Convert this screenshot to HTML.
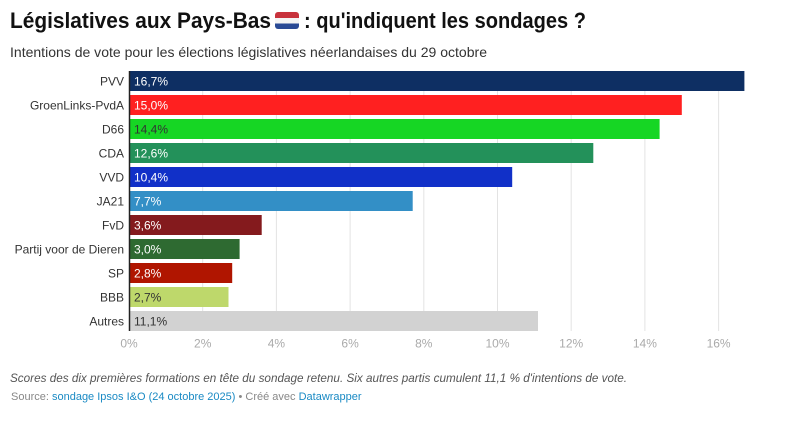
<!DOCTYPE html>
<html><head><meta charset="utf-8"><style>
html,body{margin:0;padding:0;background:#fff;}
body{width:804px;height:421px;overflow:hidden;font-family:"Liberation Sans",sans-serif;}
svg text{font-family:"Liberation Sans",sans-serif;}
</style></head><body>
<svg width="804" height="421" viewBox="0 0 804 421" xmlns="http://www.w3.org/2000/svg">
<text x="10" y="28" font-size="22" font-weight="bold" fill="#111" textLength="261" lengthAdjust="spacingAndGlyphs">Législatives aux Pays-Bas</text>
<g>
<clipPath id="fc"><rect x="275" y="12" width="24" height="17" rx="3"/></clipPath>
<g clip-path="url(#fc)">
<rect x="275" y="12" width="24" height="6" fill="#c8323c"/>
<rect x="275" y="18" width="24" height="5.5" fill="#f4f4f4"/>
<rect x="275" y="23.5" width="24" height="6" fill="#2a4a95"/>
</g></g>
<text x="304" y="28" font-size="22" font-weight="bold" fill="#111" textLength="282" lengthAdjust="spacingAndGlyphs">: qu'indiquent les sondages ?</text>
<text x="10" y="57" font-size="14" fill="#333" textLength="477" lengthAdjust="spacingAndGlyphs">Intentions de vote pour les élections législatives néerlandaises du 29 octobre</text>

<g stroke="#e3e3e3" stroke-width="1">
<line x1="202.7" y1="71" x2="202.7" y2="331"/>
<line x1="276.4" y1="71" x2="276.4" y2="331"/>
<line x1="350.1" y1="71" x2="350.1" y2="331"/>
<line x1="423.8" y1="71" x2="423.8" y2="331"/>
<line x1="497.5" y1="71" x2="497.5" y2="331"/>
<line x1="571.2" y1="71" x2="571.2" y2="331"/>
<line x1="644.9" y1="71" x2="644.9" y2="331"/>
<line x1="718.6" y1="71" x2="718.6" y2="331"/>
</g>

<g>
<rect x="129" y="71" width="615.4" height="20" fill="#0e2f63"/>
<rect x="129" y="95" width="552.8" height="20" fill="#ff2020"/>
<rect x="129" y="119" width="530.6" height="20" fill="#16d624"/>
<rect x="129" y="143" width="464.3" height="20" fill="#23915a"/>
<rect x="129" y="167" width="383.2" height="20" fill="#1130c8"/>
<rect x="129" y="191" width="283.7" height="20" fill="#338fc6"/>
<rect x="129" y="215" width="132.7" height="20" fill="#841a1d"/>
<rect x="129" y="239" width="110.6" height="20" fill="#2e6a31"/>
<rect x="129" y="263" width="103.2" height="20" fill="#b01500"/>
<rect x="129" y="287" width="99.5" height="20" fill="#bed86b"/>
<rect x="129" y="311" width="409.0" height="20" fill="#d2d2d2"/>
</g>
<line x1="129.5" y1="71" x2="129.5" y2="331" stroke="#222" stroke-width="1.5"/>

<g font-size="12" fill="#333" text-anchor="end">
<text x="124" y="85.5">PVV</text>
<text x="124" y="109.5">GroenLinks-PvdA</text>
<text x="124" y="133.5">D66</text>
<text x="124" y="157.5">CDA</text>
<text x="124" y="181.5">VVD</text>
<text x="124" y="205.5">JA21</text>
<text x="124" y="229.5">FvD</text>
<text x="124" y="253.5">Partij voor de Dieren</text>
<text x="124" y="277.5">SP</text>
<text x="124" y="301.5">BBB</text>
<text x="124" y="325.5">Autres</text>
</g>
<g font-size="12" fill="#fff">
<text x="134" y="85.5">16,7%</text>
<text x="134" y="109.5">15,0%</text>
<text x="134" y="133.5" fill="#333">14,4%</text>
<text x="134" y="157.5">12,6%</text>
<text x="134" y="181.5">10,4%</text>
<text x="134" y="205.5">7,7%</text>
<text x="134" y="229.5">3,6%</text>
<text x="134" y="253.5">3,0%</text>
<text x="134" y="277.5">2,8%</text>
<text x="134" y="301.5" fill="#333">2,7%</text>
<text x="134" y="325.5" fill="#333">11,1%</text>
</g>
<g font-size="12" fill="#aaa" text-anchor="middle">
<text x="129" y="347.5">0%</text>
<text x="202.7" y="347.5">2%</text>
<text x="276.4" y="347.5">4%</text>
<text x="350.1" y="347.5">6%</text>
<text x="423.8" y="347.5">8%</text>
<text x="497.5" y="347.5">10%</text>
<text x="571.2" y="347.5">12%</text>
<text x="644.9" y="347.5">14%</text>
<text x="718.6" y="347.5">16%</text>
</g>
<text x="10" y="382" font-size="12" font-style="italic" fill="#555" textLength="617" lengthAdjust="spacingAndGlyphs">Scores des dix premières formations en tête du sondage retenu. Six autres partis cumulent 11,1 % d'intentions de vote.</text>
<text x="11" y="400" font-size="11" fill="#888">Source: <tspan fill="#1a8ac4">sondage Ipsos I&amp;O (24 octobre 2025)</tspan> • Créé avec <tspan fill="#1a8ac4">Datawrapper</tspan></text>
</svg>
</body></html>
